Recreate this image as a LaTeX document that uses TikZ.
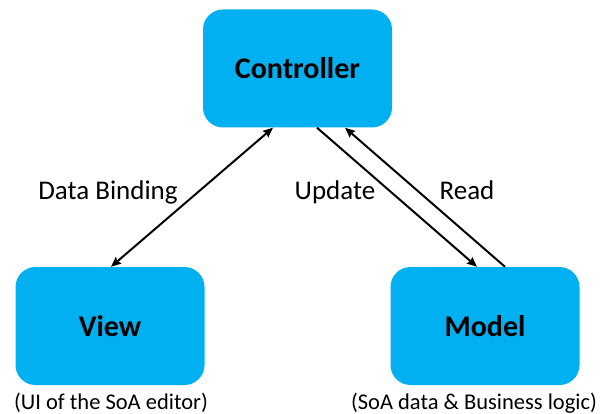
\documentclass[tikz,border=0pt]{standalone}
\usepackage{fontspec}
\setmainfont{Carlito}
\usetikzlibrary{arrows.meta}
\definecolor{boxblue}{HTML}{00B0F0}
\begin{document}
\begin{tikzpicture}[x=1pt,y=-1pt,
  block/.style={rectangle, rounded corners=20pt, fill=boxblue, draw=none,
    minimum width=189pt, minimum height=118pt, inner sep=0pt,
    font=\fontsize{30}{36}\selectfont\bfseries},
  lbl/.style={anchor=base, inner sep=0pt, font=\fontsize{27}{32}\selectfont},
  captext/.style={anchor=base, inner sep=0pt, font=\fontsize{22.5}{27}\selectfont},
  link/.style={line width=2pt, draw=black},
  head/.tip={Stealth[length=10pt,width=8.5pt,inset=1.5pt]}
]
\useasboundingbox (0,0) rectangle (601,414);

% the three components
\node[block] (ctrl)  at (297.5,68.5) {Controller};
\node[block] (view)  at (110,326)    {View};
\node[block] (model) at (485,326)    {Model};

% captions under the lower boxes
\node[captext] (viewcap)  at (111,409) {(UI of the SoA editor)};
\node[captext] (modelcap) at (474,409) {(SoA data \& Business logic)};

% connectors
\draw[link, head-head] ([xshift=-24.5pt]ctrl.south) -- ([xshift=1pt]view.north);
\draw[link, -head] ([xshift=19.5pt]ctrl.south) -- ([xshift=-8pt]model.north);
\draw[link, -head] ([xshift=20pt]model.north) -- ([xshift=47.5pt]ctrl.south);

% connector labels
\node[lbl] (lbind)   at (108,199) {Data Binding};
\node[lbl] (lupdate) at (335,199) {Update};
\node[lbl] (lread)   at (467,199) {Read};
\end{tikzpicture}
\end{document}
